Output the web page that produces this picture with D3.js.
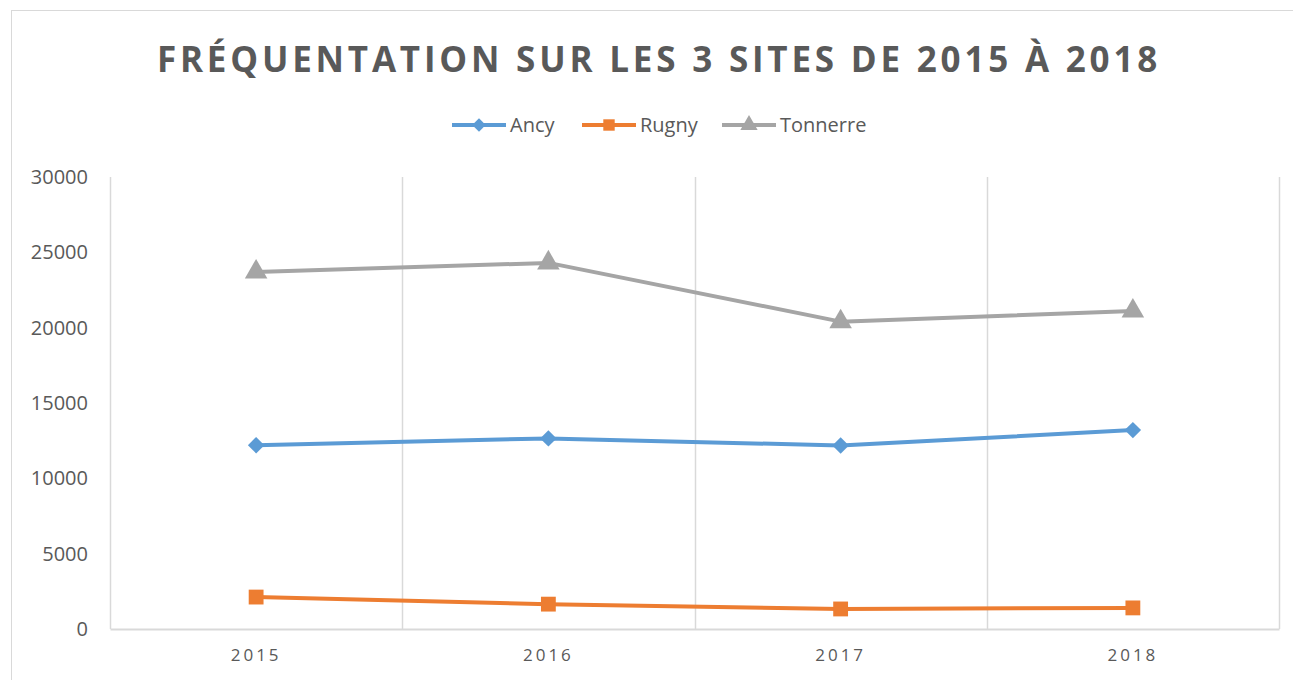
<!DOCTYPE html>
<html>
<head>
<meta charset="utf-8">
<script src="https://cdn.jsdelivr.net/npm/d3@7"></script>
<style>
  body { margin: 0; background: #fff; }
  svg { display: block; font-family: "Open Sans", sans-serif; }
</style>
</head>
<body>
<svg id="chart"></svg>
<script>
// Data
const years = ["2015", "2016", "2017", "2018"];
const ancy = [12200, 12650, 12180, 13200];
const rugny = [2120, 1650, 1330, 1400];
const tonnerre = [23700, 24300, 20400, 21100];
const yTicks = [0, 5000, 10000, 15000, 20000, 25000, 30000];

const seriesNames = ["Ancy", "Rugny", "Tonnerre"];
const seriesValues = [ancy, rugny, tonnerre];
const colors = ["#5b9bd5", "#ed7d31", "#a5a5a5"];
// diamond is a square turned 45 degrees (d3's diamond is too narrow)
const shapes = [d3.symbolSquare, d3.symbolSquare, d3.symbolTriangle];
const rotations = [45, 0, 0];

const width = 1293, height = 680;
const margin = { left: 110, right: 14, top: 177, bottom: 51 };

const svg = d3.select("#chart")
    .attr("width", width)
    .attr("height", height);

// Chart frame
svg.append("rect")
    .attr("x", 11.5).attr("y", 10.5)
    .attr("width", width + 10).attr("height", height + 10)
    .attr("fill", "none")
    .attr("stroke", "#d9d9d9");

const x = d3.scaleBand()
    .domain(years)
    .range([margin.left, width - margin.right]);

const y = d3.scaleLinear()
    .domain([0, 30000])
    .range([height - margin.bottom, margin.top]);

// Vertical gridlines at category boundaries
const bounds = years.map(d => x(d)).concat([x.range()[1]]);
svg.append("g")
    .selectAll("line")
    .data(bounds)
    .join("line")
        .attr("x1", d => Math.round(d) + 0.5)
        .attr("x2", d => Math.round(d) + 0.5)
        .attr("y1", y(30000))
        .attr("y2", y(0))
        .attr("stroke", "#d9d9d9")
        .attr("stroke-width", 1.5);

// x axis
svg.append("g")
    .attr("transform", `translate(0, ${y(0)})`)
    .call(d3.axisBottom(x).tickSize(0).tickPadding(20))
    .call(g => g.select(".domain").attr("stroke", "#d9d9d9").attr("stroke-width", 2))
    .call(g => g.selectAll("text")
        .attr("fill", "#595959")
        .attr("font-size", 17)
        .attr("letter-spacing", "3px")
        .attr("font-family", "Open Sans, sans-serif"));

// y axis
svg.append("g")
    .attr("transform", `translate(${margin.left}, 0)`)
    .call(d3.axisLeft(y).tickValues(yTicks).tickSize(0).tickPadding(22).tickFormat(d3.format("d")))
    .call(g => g.select(".domain").remove())
    .call(g => g.selectAll("text")
        .attr("fill", "#595959")
        .attr("font-size", 20)
        .attr("font-family", "Open Sans, sans-serif"));

// Lines and markers
const line = d3.line()
    .x((d, i) => x(years[i]) + x.bandwidth() / 2)
    .y(d => y(d));

seriesValues.forEach((vals, s) => {
    svg.append("path")
        .datum(vals)
        .attr("fill", "none")
        .attr("stroke", colors[s])
        .attr("stroke-width", 4)
        .attr("stroke-linejoin", "round")
        .attr("d", line);

    svg.append("g")
        .selectAll("path")
        .data(vals)
        .join("path")
            .attr("transform", (d, i) => `translate(${x(years[i]) + x.bandwidth() / 2}, ${y(d)}) rotate(${rotations[s]})`)
            .attr("d", d3.symbol().type(shapes[s]).size(s === 0 ? 135 : 220))
            .attr("fill", colors[s]);
});

// Title
svg.append("text")
    .attr("x", 659)
    .attr("y", 72)
    .attr("text-anchor", "middle")
    .attr("fill", "#595959")
    .attr("font-size", 35)
    .attr("font-weight", "bold")
    .attr("letter-spacing", "3.8px")
    .text("FRÉQUENTATION SUR LES 3 SITES DE 2015 À 2018");

// Legend
const legendX = [452, 582, 722];
const legend = svg.append("g");
seriesNames.forEach((name, s) => {
    const g = legend.append("g").attr("transform", `translate(${legendX[s]}, 125)`);
    g.append("line")
        .attr("x1", 0).attr("x2", 54)
        .attr("stroke", colors[s])
        .attr("stroke-width", 4);
    g.append("path")
        .attr("transform", `translate(27, 0) rotate(${rotations[s]})`)
        .attr("d", d3.symbol().type(shapes[s]).size(s === 0 ? 90 : 130))
        .attr("fill", colors[s]);
    g.append("text")
        .attr("x", 58)
        .attr("dy", "0.35em")
        .attr("fill", "#595959")
        .attr("font-size", 20)
        .text(name);
});
</script>
</body>
</html>
